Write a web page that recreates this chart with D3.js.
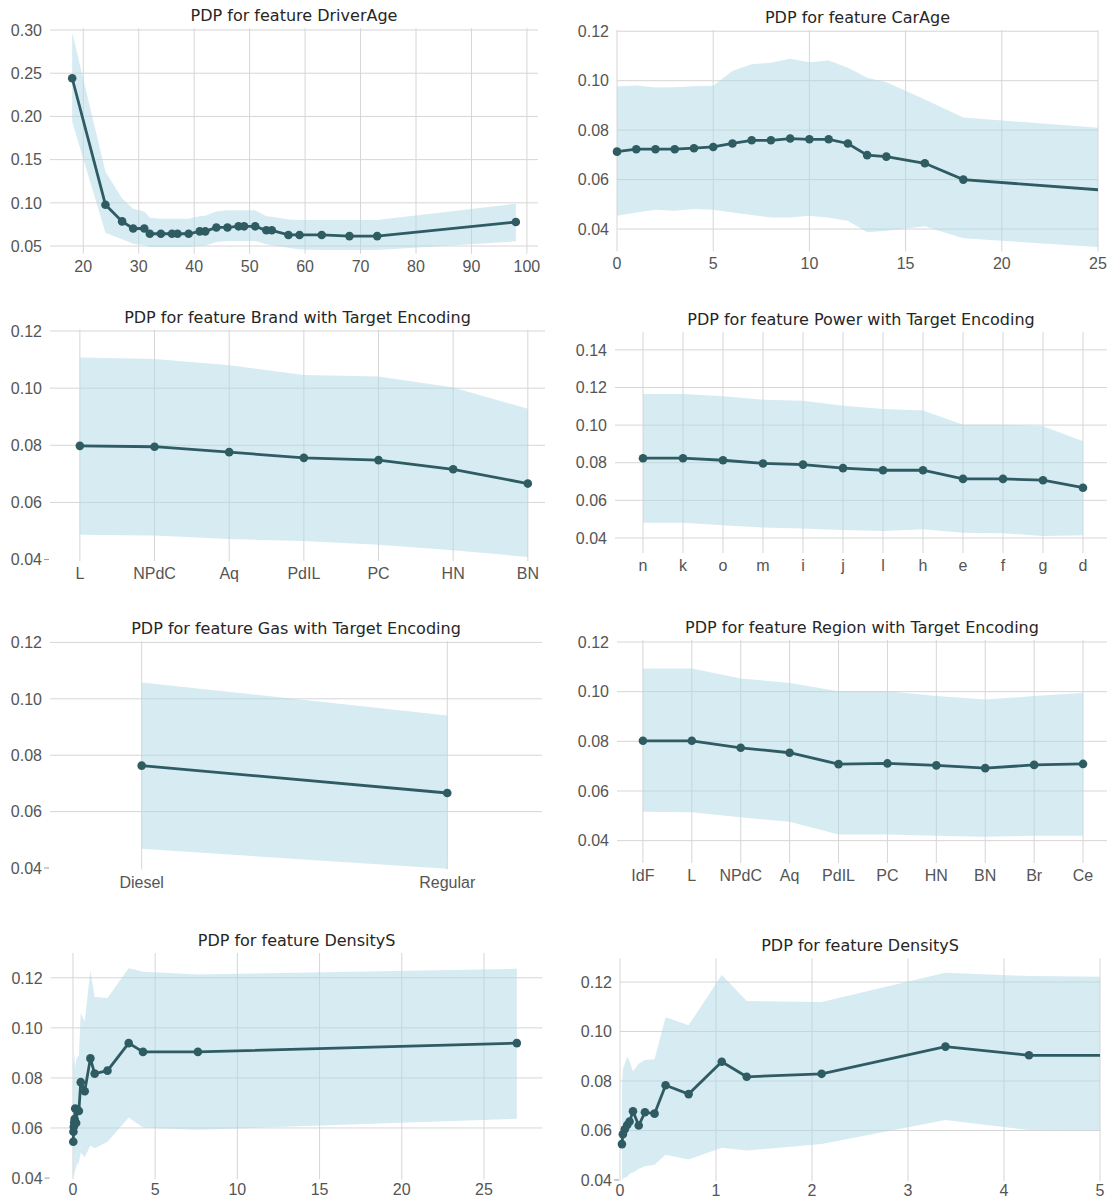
<!DOCTYPE html>
<html>
<head>
  <meta charset="utf-8">
  <title>PDP grid</title>
  <script src="https://d3js.org/d3.v7.min.js"></script>
  <style>
    body { margin: 0; background: #fff; }
  </style>
</head>
<body>

<svg id="chart"></svg>

<script>

// ---- data ----

var driverAge      = [18, 24, 27, 29, 31, 32, 34, 36, 37, 39, 41, 42, 44, 46, 48, 49, 51, 53, 54, 57, 59, 63, 68, 73, 98]
var driverAgePdp   = [0.2442, 0.0978, 0.0785, 0.0703, 0.0703, 0.0642, 0.0642, 0.0642, 0.0642, 0.0642, 0.0670, 0.0670, 0.0715, 0.0715, 0.0728, 0.0728, 0.0728, 0.0682, 0.0682, 0.0628, 0.0628, 0.0628, 0.0615, 0.0615, 0.0778]
var driverAgeUpper = [0.297, 0.136, 0.105, 0.093, 0.090, 0.0826, 0.0815, 0.0815, 0.0815, 0.0815, 0.0845, 0.085, 0.0899, 0.0914, 0.0914, 0.0914, 0.0914, 0.0845, 0.084, 0.0807, 0.080, 0.080, 0.080, 0.080, 0.099]
var driverAgeLower = [0.1938, 0.0653, 0.0577, 0.0527, 0.0508, 0.0489, 0.049, 0.049, 0.049, 0.049, 0.050, 0.0505, 0.0546, 0.0558, 0.0558, 0.0558, 0.0558, 0.052, 0.051, 0.048, 0.046, 0.0455, 0.0454, 0.0454, 0.0555]

var carAge      = [0, 1, 2, 3, 4, 5, 6, 7, 8, 9, 10, 11, 12, 13, 14, 16, 18, 26]
var carAgePdp   = [0.0713, 0.0723, 0.0723, 0.0723, 0.0727, 0.0732, 0.0746, 0.0759, 0.0759, 0.0766, 0.0763, 0.0763, 0.0746, 0.0699, 0.0693, 0.0666, 0.0600, 0.0553]
var carAgeUpper = [0.0976, 0.0981, 0.0972, 0.0973, 0.0978, 0.0980, 0.1039, 0.1066, 0.1073, 0.1089, 0.1075, 0.1082, 0.1052, 0.1012, 0.0994, 0.0924, 0.0851, 0.0804]
var carAgeLower = [0.0454, 0.0467, 0.0478, 0.0474, 0.0481, 0.0478, 0.0467, 0.0457, 0.0447, 0.0447, 0.0454, 0.0446, 0.0434, 0.0387, 0.0393, 0.0411, 0.0363, 0.0322]

var brandCats  = ['L', 'NPdC', 'Aq', 'PdIL', 'PC', 'HN', 'BN']
var brandPdp   = [0.0798, 0.0795, 0.0776, 0.0756, 0.0748, 0.0716, 0.0666]
var brandUpper = [0.1107, 0.1102, 0.1080, 0.1046, 0.1041, 0.1002, 0.0928]
var brandLower = [0.0487, 0.0484, 0.0472, 0.0465, 0.0452, 0.0433, 0.0409]

var powerCats  = ['n', 'k', 'o', 'm', 'i', 'j', 'l', 'h', 'e', 'f', 'g', 'd']
var powerPdp   = [0.0824, 0.0824, 0.0813, 0.0796, 0.0790, 0.0771, 0.0760, 0.0760, 0.0714, 0.0714, 0.0707, 0.0667]
var powerUpper = [0.1165, 0.1165, 0.1153, 0.1135, 0.1130, 0.1103, 0.1086, 0.1077, 0.1002, 0.1002, 0.0994, 0.0914]
var powerLower = [0.0481, 0.0481, 0.0467, 0.0455, 0.0450, 0.0442, 0.0437, 0.0446, 0.0428, 0.0425, 0.0411, 0.0414]

var gasCats  = ['Diesel', 'Regular']
var gasPdp   = [0.0763, 0.0666]
var gasUpper = [0.1058, 0.0941]
var gasLower = [0.0468, 0.0397]

var regionCats  = ['IdF', 'L', 'NPdC', 'Aq', 'PdIL', 'PC', 'HN', 'BN', 'Br', 'Ce']
var regionPdp   = [0.0802, 0.0802, 0.0774, 0.0754, 0.0708, 0.0711, 0.0703, 0.0692, 0.0705, 0.0709]
var regionUpper = [0.1093, 0.1093, 0.1053, 0.1035, 0.1002, 0.1002, 0.0982, 0.0968, 0.0982, 0.0995]
var regionLower = [0.0516, 0.0514, 0.0494, 0.0476, 0.0425, 0.0425, 0.0420, 0.0416, 0.0420, 0.0420]

var density      = [0.02, 0.03, 0.05, 0.075, 0.10, 0.135, 0.195, 0.26, 0.36, 0.475, 0.715, 1.06, 1.32, 2.10, 3.39, 4.26, 7.6, 27.0]
var densityPdp   = [0.0545, 0.0585, 0.0605, 0.0622, 0.0636, 0.0678, 0.0620, 0.0674, 0.0668, 0.0783, 0.0747, 0.0878, 0.0817, 0.0829, 0.0939, 0.0904, 0.0904, 0.0939]
var densityUpper = [0.0770, 0.0850, 0.0868, 0.0898, 0.0880, 0.0838, 0.0870, 0.0885, 0.0888, 0.1058, 0.1025, 0.1228, 0.1123, 0.1119, 0.1238, 0.1224, 0.1213, 0.1236]
var densityLower = [0.0402, 0.0405, 0.0410, 0.0413, 0.0425, 0.0430, 0.0445, 0.0455, 0.0462, 0.0502, 0.0483, 0.0530, 0.0519, 0.0545, 0.0642, 0.0602, 0.0593, 0.0637]

// tick values
var driverAgeTicks = [20, 30, 40, 50, 60, 70, 80, 90, 100]
var carAgeTicks    = [0, 5, 10, 15, 20, 25]
var densityTicks   = [0, 5, 10, 15, 20, 25]
var densityZoomTicks = [0, 1, 2, 3, 4, 5]
var yTicksWide  = [0.05, 0.10, 0.15, 0.20, 0.25, 0.30]
var yTicksStd   = [0.04, 0.06, 0.08, 0.10, 0.12]
var yTicksPower = [0.04, 0.06, 0.08, 0.10, 0.12, 0.14]

var lineColor = '#2f5b63'
var bandColor = '#add8e6'
var gridColor = '#d6d6d6'

// box = [left, top, right, bottom] in px; labelGap = space under the box for x labels
var panels = [
  {title: 'PDP for feature DriverAge', x: driverAge, y: driverAgePdp, hi: driverAgeUpper, lo: driverAgeLower,
   xDomain: [14, 102], yDomain: [0.041, 0.302], xTicks: driverAgeTicks, yTicks: yTicksWide, box: [50, 28.3, 538, 253.8], labelGap: 6},
  {title: 'PDP for feature CarAge', x: carAge, y: carAgePdp, hi: carAgeUpper, lo: carAgeLower,
   xDomain: [0, 25], yDomain: [0.031, 0.1205], xTicks: carAgeTicks, yTicks: yTicksStd, box: [617, 30, 1098, 251.3], labelGap: 6},
  {title: 'PDP for feature Brand with Target Encoding', cats: brandCats, y: brandPdp, hi: brandUpper, lo: brandLower,
   xDomain: [-0.4, 6.23], yDomain: [0.0395, 0.1205], yTicks: yTicksStd, box: [50, 329.6, 545, 561], labelGap: 6},
  {title: 'PDP for feature Power with Target Encoding', cats: powerCats, y: powerPdp, hi: powerUpper, lo: powerLower,
   xDomain: [-0.7, 11.6], yDomain: [0.032, 0.1497], yTicks: yTicksPower, box: [615, 331.6, 1107, 553], labelGap: 6},
  {title: 'PDP for feature Gas with Target Encoding', cats: gasCats, y: gasPdp, hi: gasUpper, lo: gasLower,
   xDomain: [-0.3, 1.31], yDomain: [0.0395, 0.1205], yTicks: yTicksStd, box: [50, 641, 542, 869.4], labelGap: 6},
  {title: 'PDP for feature Region with Target Encoding', cats: regionCats, y: regionPdp, hi: regionUpper, lo: regionLower,
   xDomain: [-0.53, 9.49], yDomain: [0.031, 0.1208], yTicks: yTicksStd, box: [617, 640, 1107, 863], labelGap: 6},
  {title: 'PDP for feature DensityS', x: density, y: densityPdp, hi: densityUpper, lo: densityLower,
   xDomain: [-1.36, 28.56], yDomain: [0.0395, 0.1299], xTicks: densityTicks, yTicks: yTicksStd, box: [50.6, 953, 542.5, 1179.3], labelGap: 4},
  {title: 'PDP for feature DensityS', x: density, y: densityPdp, hi: densityUpper, lo: densityLower,
   xDomain: [0, 5], yDomain: [0.0395, 0.1296], xTicks: densityZoomTicks, yTicks: yTicksStd, box: [620, 958.3, 1100, 1181.2], labelGap: 2.5}
]

var svg = d3.select('#chart')
  .attr('width', 1110)
  .attr('height', 1200)
  .style('font-family', '"Liberation Sans", Arial, sans-serif')

panels.forEach(function(p, i) {
  var b = p.box
  var xs = d3.scaleLinear().domain(p.xDomain).range([b[0], b[2]])
  var ys = d3.scaleLinear().domain(p.yDomain).range([b[3], b[1]])

  var xVals = p.cats ? p.cats.map(function(c, j) { return j }) : p.x
  var xTickVals = p.cats ? xVals : p.xTicks
  var xTickText = p.cats ? p.cats : p.xTicks.map(String)

  var pts = xVals.map(function(v, j) { return {x: v, y: p.y[j], hi: p.hi[j], lo: p.lo[j]} })

  var g = svg.append('g').attr('class', 'panel')

  g.append('clipPath').attr('id', 'clip' + i)
    .append('rect')
    .attr('x', b[0]).attr('y', b[1])
    .attr('width', b[2] - b[0]).attr('height', b[3] - b[1])

  // gridlines
  g.selectAll('.vgrid')
    .data(xTickVals)
    .enter().append('line')
    .attr('x1', function(d) { return xs(d) }).attr('x2', function(d) { return xs(d) })
    .attr('y1', b[1]).attr('y2', b[3])
    .style('stroke', gridColor).style('stroke-width', 1)

  p.yTicks.forEach(function(t) {
    var yy = ys(t)
    if (b[3] - yy > 3) {
      g.append('line')
        .attr('x1', b[0]).attr('x2', b[2]).attr('y1', yy).attr('y2', yy)
        .style('stroke', gridColor).style('stroke-width', 1)
    } else {
      g.append('line')
        .attr('x1', b[0] - 6).attr('x2', b[0] - 1).attr('y1', yy).attr('y2', yy)
        .style('stroke', '#9a9a9a').style('stroke-width', 1)
    }
    g.append('text')
      .attr('x', b[0] - 8).attr('y', yy)
      .attr('dy', '0.36em')
      .attr('text-anchor', 'end')
      .style('font-size', '16px').style('fill', '#555')
      .text(d3.format('.2f')(t))
  })

  g.selectAll('.xlab')
    .data(xTickVals)
    .enter().append('text')
    .attr('x', function(d) { return xs(d) })
    .attr('y', b[3] + p.labelGap)
    .attr('dy', '0.76em')
    .attr('text-anchor', 'middle')
    .style('font-size', '16px').style('fill', '#555')
    .text(function(d, j) { return xTickText[j] })

  // band
  var area = d3.area()
    .x(function(d) { return xs(d.x) })
    .y0(function(d) { return ys(d.lo) })
    .y1(function(d) { return ys(d.hi) })

  g.append('path')
    .datum(pts)
    .attr('clip-path', 'url(#clip' + i + ')')
    .attr('d', area)
    .style('fill', bandColor).style('fill-opacity', 0.5)

  // pdp line
  var line = d3.line()
    .x(function(d) { return xs(d.x) })
    .y(function(d) { return ys(d.y) })

  g.append('path')
    .datum(pts)
    .attr('clip-path', 'url(#clip' + i + ')')
    .attr('d', line)
    .style('fill', 'none').style('stroke', lineColor).style('stroke-width', 2.8)

  g.selectAll('.dot')
    .data(pts.filter(function(d) { return d.x >= p.xDomain[0] && d.x <= p.xDomain[1] }))
    .enter().append('circle')
    .attr('cx', function(d) { return xs(d.x) })
    .attr('cy', function(d) { return ys(d.y) })
    .attr('r', 4.3)
    .style('fill', lineColor)

  g.append('text')
    .attr('x', (b[0] + b[2]) / 2)
    .attr('y', b[1] - 7)
    .attr('text-anchor', 'middle')
    .style('font-family', '"DejaVu Sans", sans-serif')
    .style('font-size', '16px').style('fill', '#262626')
    .text(p.title)
})

</script>

</body>
</html>
